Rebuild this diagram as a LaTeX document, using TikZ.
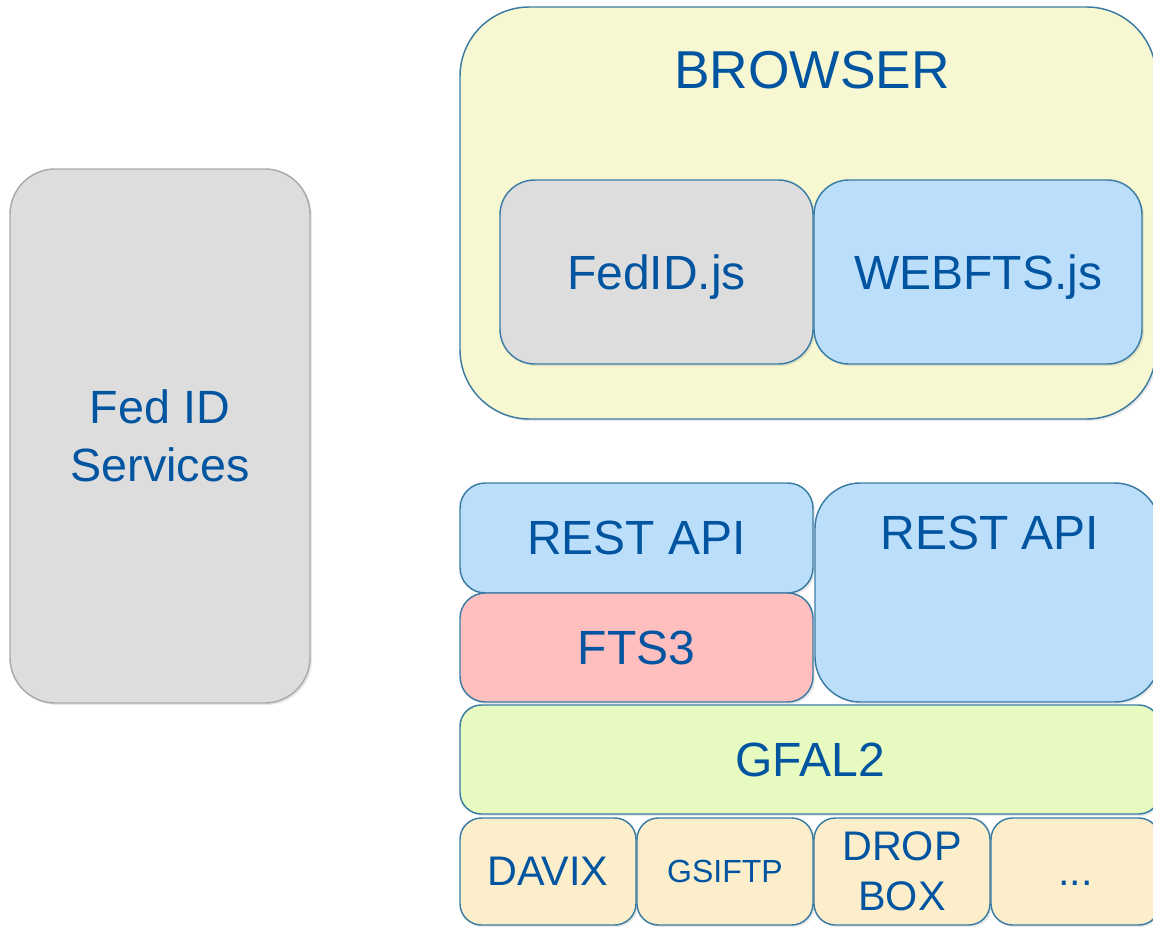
\documentclass[tikz,border=0pt]{standalone}
\usepackage{fontspec}
\setmainfont{Liberation Sans}
\usetikzlibrary{shadows}
\definecolor{txtblue}{HTML}{0054A0}
\definecolor{edgeblue}{HTML}{3A7CA3}
\definecolor{edgegray}{HTML}{AAAAAA}
\definecolor{fillgray}{HTML}{DDDDDD}
\definecolor{fillyellow}{HTML}{F7F8D2}
\definecolor{fillblue}{HTML}{BBDEFB}
\definecolor{fillpink}{HTML}{FFBFBF}
\definecolor{fillgreen}{HTML}{E7FAC0}
\definecolor{fillbeige}{HTML}{FCEDCB}
\tikzset{
  box/.style={draw=edgeblue, line width=1.1pt, inner sep=0pt, text=txtblue, align=center,
    drop shadow={opacity=0.18, shadow xshift=1.5pt, shadow yshift=-1.5pt}},
  lbl/.style={inner sep=0pt, text=txtblue, align=center},
  big/.style={font=\fontsize{36}{43}\selectfont},
  mid/.style={font=\fontsize{31}{37.5}\selectfont},
}
\begin{document}
\begin{tikzpicture}[x=0.75pt,y=-0.75pt]
\useasboundingbox (0,0) rectangle (1153,927);
\clip (0,0) rectangle (1153,927);
% Fed ID services
\node[box, draw=edgegray, fill=fillgray, rounded corners=34pt, minimum width=225pt, minimum height=400.5pt,
  font=\fontsize{35}{43.5}\selectfont] (fedsvc) at (160,436) {Fed ID\\Services};
% Browser
\node[box, fill=fillyellow, rounded corners=52pt, minimum width=522pt, minimum height=309pt] (browser) at (808,213) {};
\node[lbl, font=\fontsize{40}{48}\selectfont] (browserlbl) at (812,70) {BROWSER};
\node[box, fill=fillgray, rounded corners=26pt, minimum width=234.75pt, minimum height=138pt, big, text depth=0pt] (fedidjs) at (656.5,272) {FedID.js};
\node[box, fill=fillblue, rounded corners=26pt, minimum width=246pt, minimum height=138pt, big, text depth=0pt] (webftsjs) at (978,272) {WEBFTS.js};
% Server stack
\node[box, fill=fillblue, rounded corners=19pt, minimum width=264.75pt, minimum height=82.5pt, big] (restl) at (636.5,538) {REST API};
\node[box, fill=fillpink, rounded corners=19pt, minimum width=264.75pt, minimum height=81.75pt, big] (fts3) at (636.5,647.5) {FTS3};
\node[box, fill=fillblue, rounded corners=34pt, minimum width=258.75pt, minimum height=164.25pt] (restr) at (987.5,592.5) {};
\node[lbl, big] (restrlbl) at (990,533) {REST API};
\node[box, fill=fillgreen, rounded corners=16pt, minimum width=525pt, minimum height=81.75pt, big] (gfal2) at (810,759.5) {GFAL2};
\node[box, fill=fillbeige, rounded corners=16pt, minimum width=132pt, minimum height=80.25pt, mid] (davix) at (548,871.5) {DAVIX};
\node[box, fill=fillbeige, rounded corners=16pt, minimum width=132pt, minimum height=80.25pt, font=\fontsize{24}{29}\selectfont] (gsiftp) at (725,871.5) {GSIFTP};
\node[box, fill=fillbeige, rounded corners=16pt, minimum width=132pt, minimum height=80.25pt, mid] (dropbox) at (902,871.5) {DROP\\BOX};
\node[box, fill=fillbeige, rounded corners=16pt, minimum width=126.75pt, minimum height=80.25pt, mid] (dots) at (1075.5,871.5) {\vphantom{DX}...};
\end{tikzpicture}
\end{document}
